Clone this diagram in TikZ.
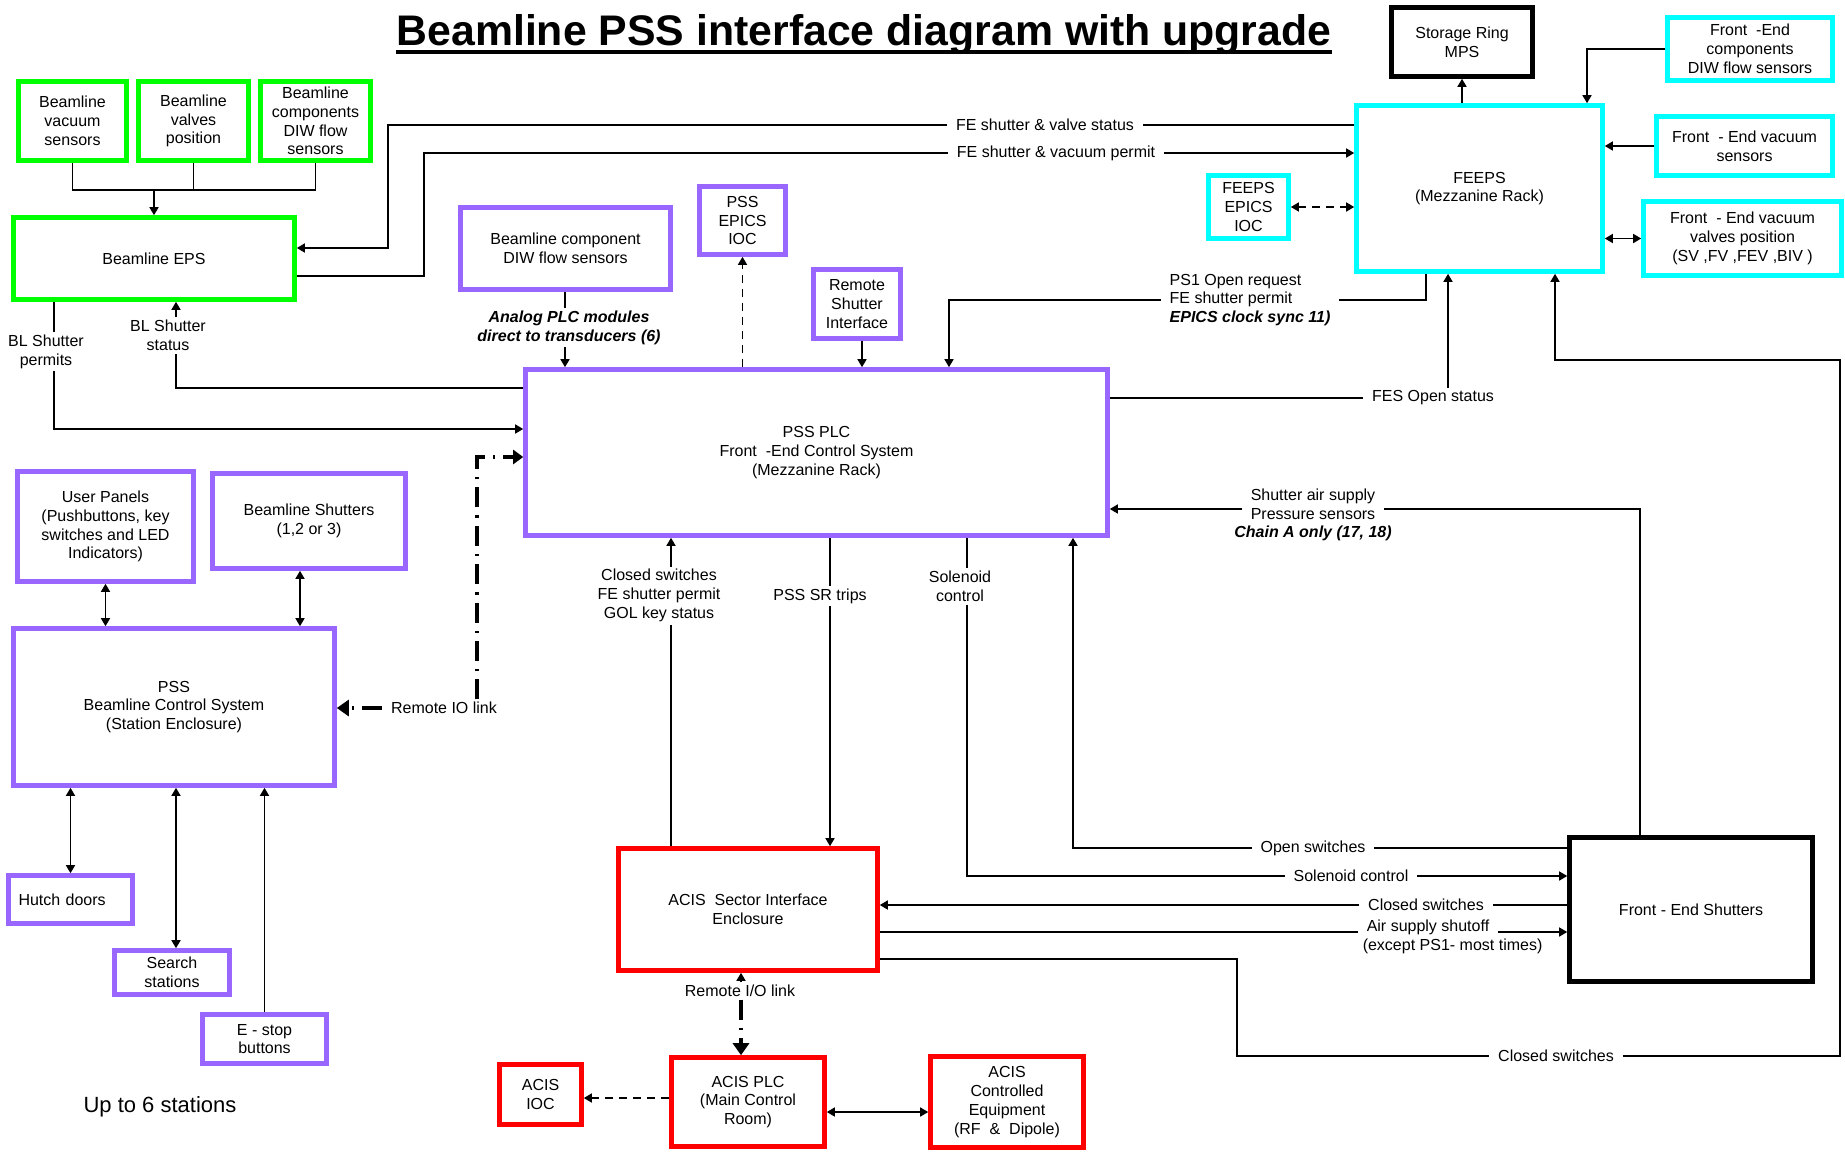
\documentclass[tikz,border=0pt]{standalone}
\usepackage{fontspec}
\setmainfont{Liberation Sans}
\usetikzlibrary{arrows.meta}

\definecolor{clrgreen}{RGB}{0,255,0}
\definecolor{clrcyan}{RGB}{0,255,255}
\definecolor{clrpurple}{RGB}{153,102,255}
\definecolor{clrred}{RGB}{255,0,0}

\tikzset{
  blk/.style={draw, line width=2.3pt, align=center, inner sep=1pt},
  epsbox/.style={blk, draw=clrgreen},
  febox/.style={blk, draw=clrcyan},
  pssbox/.style={blk, draw=clrpurple},
  acisbox/.style={blk, draw=clrred},
  mpsbox/.style={blk, draw=black},
  lbl/.style={align=center, inner xsep=4pt, inner ysep=1pt},
  arr/.style={-{Triangle[width=4.5pt,length=4pt]}},
  arrs/.style={{Triangle[width=4.5pt,length=4pt]}-{Triangle[width=4.5pt,length=4pt]}},
  dsh/.style={dash pattern=on 4pt off 3pt},
  rio/.style={line width=2pt, dash pattern=on 10pt off 4pt on 1.2pt off 4pt},
}
\newcommand\bfit{\bfseries\itshape}

\begin{document}
\begin{tikzpicture}[x=0.5pt, y=-0.5pt, line width=0.75pt, font=\fontsize{8}{9.4}\selectfont]
  \useasboundingbox (0,0) rectangle (1845,1152);

  \node[font=\fontsize{21.4}{25}\selectfont\bfseries, inner sep=0pt, anchor=base] (title) at (864,45) {Beamline PSS interface diagram with upgrade};
  \draw[line width=2pt] ([yshift=-3.5pt]title.base west) -- ([yshift=-3.5pt]title.base east);

  \node[epsbox, minimum width=54pt, minimum height=39.5pt] (bvac) at (72.5,121) {Beamline\\vacuum\\sensors};
  \node[epsbox, minimum width=55pt, minimum height=39.5pt] (bvalv) at (193.5,121) {Beamline\\valves\\position};
  \node[epsbox, minimum width=55pt, minimum height=39.5pt] (bdiw) at (315.5,121) {Beamline\\components\\DIW flow\\sensors};
  \node[epsbox, minimum width=140.5pt, minimum height=41pt] (eps) at (154,258.5) {Beamline EPS};

  \node[pssbox, minimum width=105pt, minimum height=41pt] (bcdiw) at (565.5,248.5) {Beamline component\\DIW flow sensors};
  \node[pssbox, minimum width=43pt, minimum height=34pt] (pioc) at (742.5,220.5) {PSS\\EPICS\\IOC};
  \node[pssbox, minimum width=43.5pt, minimum height=34.5pt] (rsi) at (857,304) {Remote\\Shutter\\Interface};
  \node[pssbox, minimum width=291pt, minimum height=83pt] (plc) at (816.5,452.5) {PSS PLC\\Front\ \ -End Control System\\(Mezzanine Rack)};

  \node[mpsbox, minimum width=70.5pt, minimum height=34.5pt] (srmps) at (1462,42) {Storage Ring\\MPS};
  \node[febox, minimum width=123pt, minimum height=83pt] (feeps) at (1479.5,188.5) {FEEPS\\(Mezzanine Rack)};
  \node[febox, minimum width=82.5pt, minimum height=31.5pt] (fediw) at (1750,49) {Front\ \ -End\\components\\DIW flow sensors};
  \node[febox, minimum width=88pt, minimum height=29.5pt] (fevac) at (1744.5,146) {Front\ \ - End vacuum\\sensors};
  \node[febox, minimum width=99pt, minimum height=37pt] (fevalv) at (1742.5,238.5) {Front\ \ - End vacuum\\valves position\\(SV ,FV ,FEV ,BIV )};
  \node[febox, minimum width=40pt, minimum height=31.5pt] (fioc) at (1248.5,207) {FEEPS\\EPICS\\IOC};

  \node[pssbox, minimum width=88pt, minimum height=55pt] (upanel) at (105.5,526.5) {User Panels\\(Pushbuttons, key\\switches and LED\\Indicators)};
  \node[pssbox, minimum width=96.5pt, minimum height=47.5pt] (bshut) at (309,521) {Beamline Shutters\\(1,2 or 3)};
  \node[pssbox, minimum width=160.5pt, minimum height=78.5pt] (bcs) at (174,707) {PSS\\Beamline Control System\\(Station Enclosure)};
  \node[pssbox, minimum width=62pt, minimum height=24pt, align=left, text width=52pt] (hutch) at (70.5,899.5) {Hutch doors};
  \node[pssbox, minimum width=57.5pt, minimum height=22pt] (search) at (172,972.5) {Search\\stations};
  \node[pssbox, minimum width=62pt, minimum height=24.5pt] (estop) at (264.5,1039) {E - stop\\buttons};

  \node[acisbox, minimum width=129.5pt, minimum height=61pt] (sie) at (748,909.5) {ACIS\ \ Sector Interface\\Enclosure};
  \node[acisbox, minimum width=76.5pt, minimum height=44.5pt] (aplc) at (748,1102) {ACIS PLC\\(Main Control\\Room)};
  \node[acisbox, minimum width=41pt, minimum height=30pt] (aioc) at (540.5,1094.5) {ACIS\\IOC};
  \node[acisbox, minimum width=76.5pt, minimum height=45.5pt] (ace) at (1007,1102) {ACIS\\Controlled\\Equipment\\(RF\ \ \&\ \ Dipole)};
  \node[mpsbox, minimum width=121.5pt, minimum height=72pt] (fes) at (1691,909.5) {Front - End Shutters};

  \node[lbl] (lbvs) at (1045,125) {FE shutter \& valve status};
  \node[lbl] (lbvp) at (1056,153) {FE shutter \& vacuum permit};
  \node[lbl] (lbsp) at (46,351.5) {BL Shutter\\permits};
  \node[lbl] (lbss) at (168,335.5) {BL Shutter\\status};
  \node[lbl, font=\fontsize{8}{9.4}\selectfont\bfit] (lapm) at (569,327.5) {Analog PLC modules\\direct to transducers (6)};
  \node[lbl, align=left] (lps1) at (1250,300) {PS1 Open request\\FE shutter permit\\{\bfit EPICS clock sync 11)}};
  \node[lbl] (lfes) at (1433,398) {FES Open status};
  \node[lbl] (lsas) at (1313,504.5) {Shutter air supply\\Pressure sensors};
  \node[lbl, font=\fontsize{8}{9.4}\selectfont\bfit] (lsasb) at (1313,533) {Chain A only (17, 18)};
  \node[lbl] (lcsw) at (659,595.5) {Closed switches\\FE shutter permit\\GOL key status};
  \node[lbl] (lsrt) at (820,596) {PSS SR trips};
  \node[lbl] (lsol) at (960,586.5) {Solenoid\\control};
  \node[lbl] (los) at (1313,848) {Open switches};
  \node[lbl] (lsol2) at (1351,876) {Solenoid control};
  \node[lbl] (lcs2) at (1426,905) {Closed switches};
  \node[lbl, anchor=west] (las1) at (1358,927) {Air supply shutoff};
  \node[lbl, anchor=west] (las2) at (1354,946) {(except PS1- most times)};
  \node[lbl] (lcs3) at (1556,1056) {Closed switches};
  \node[lbl] (lrio) at (444,708) {Remote IO link};
  \node[lbl] (lrio2) at (740,991) {Remote I/O link};
  \node[font=\fontsize{11}{13}\selectfont] (nst) at (160,1107) {Up to 6 stations};

  \coordinate (bjoin) at (154,190);
  \draw (bvac.south) |- (bjoin) -| (bdiw.south);
  \draw (bvalv.south) -- (bvalv.south |- bjoin);
  \draw[arr] (bjoin) -- (eps.north);

  \draw (feeps.west |- lbvs.east) -- (lbvs.east);
  \draw[arr] (lbvs.west) -| (388,248) -- (eps.east |- 0,248);
  \draw (eps.east |- 0,276) -| (lbvp.west -| 424,0) -- (lbvp.west);
  \draw[arr] (lbvp.east) -- (feeps.west |- lbvp.east);

  \draw (eps.south -| 54,0) -- (lbsp.north -| 54,0);
  \draw[arr] (lbsp.south -| 54,0) |- (plc.west |- 0,429);
  \draw[arr] (lbss.north -| 176,0) -- (eps.south -| 176,0);
  \draw (plc.west |- 0,388) -| (lbss.south -| 176,0);

  \draw (bcdiw.south -| 565,0) -- (lapm.north -| 565,0);
  \draw[arr] (lapm.south -| 565,0) -- (plc.north -| 565,0);
  \draw[arr, dsh] (plc.north -| pioc.south) -- (pioc.south);
  \draw[arr] (rsi.south -| 862,0) -- (plc.north -| 862,0);
  \draw (feeps.south -| 1426,0) |- (lps1.east);
  \draw[arr] (lps1.west) -| (plc.north -| 949,0);

  \draw[arr] (feeps.north -| srmps.south) -- (srmps.south);
  \draw[arr] (fediw.west) -| (feeps.north -| 1587,0);
  \draw[arr] (fevac.west) -- (feeps.east |- fevac.west);
  \draw[arrs] (feeps.east |- fevalv.west) -- (fevalv.west);
  \draw[arrs, dsh] (fioc.east) -- (feeps.west |- fioc.east);

  \draw (plc.east |- lfes.west) -- (lfes.west);
  \draw[arr] (lfes.north -| 1448,0) -- (feeps.south -| 1448,0);
  \draw (fes.north -| 1640,0) |- (lsas.east |- 0,509);
  \draw[arr] (lsas.west |- 0,509) -- (plc.east |- 0,509);

  \draw[arr] (lcsw.north -| 671,0) -- (plc.south -| 671,0);
  \draw (sie.north -| 671,0) -- (lcsw.south -| 671,0);
  \draw (plc.south -| 830,0) -- (lsrt.north -| 830,0);
  \draw[arr] (lsrt.south -| 830,0) -- (sie.north -| 830,0);
  \draw (plc.south -| 967,0) -- (lsol.north -| 967,0);
  \draw (lsol.south -| 967,0) |- (lsol2.west);
  \draw[arr] (lsol2.east) -- (fes.west |- lsol2.east);
  \draw (fes.west |- los.east) -- (los.east);
  \draw[arr] (los.west) -| (plc.south -| 1073,0);
  \draw (fes.west |- lcs2.east) -- (lcs2.east);
  \draw[arr] (lcs2.west) -- (sie.east |- lcs2.west);
  \draw (sie.east |- 0,932) -- (las1.west |- 0,932);
  \draw[arr] (las1.east |- 0,932) -- (fes.west |- 0,932);
  \draw (sie.east |- 0,959) -| (lcs3.west -| 1237,0) -- (lcs3.west);
  \draw[arr] (lcs3.east) -| (1840,360) -| (feeps.south -| 1555,0);

  \draw[rio, -{Triangle[width=7pt,length=5pt]}] (lrio.north -| 477,0) |- (plc.west |- 0,457);
  \draw[rio, -{Triangle[width=8pt,length=6pt]}] (lrio.west) -- (bcs.east |- lrio.west);
  \draw[arr] (lrio2.north -| 741,0) -- (sie.south -| 741,0);
  \draw[rio, -{Triangle[width=8pt,length=6pt]}] (lrio2.south -| 741,0) -- (aplc.north -| 741,0);
  \draw[arr, dsh] (aplc.west |- 0,1098) -- (aioc.east |- 0,1098);
  \draw[arrs] (aplc.east |- 0,1112) -- (ace.west |- 0,1112);

  \draw[arrs] (upanel.south) -- (bcs.north -| upanel.south);
  \draw[arrs] (bshut.south -| 300,0) -- (bcs.north -| 300,0);
  \draw[arrs] (bcs.south -| hutch.north) -- (hutch.north);
  \draw[arrs] (bcs.south -| 176,0) -- (search.north -| 176,0);
  \draw[arr] (estop.north) -- (bcs.south -| estop.north);
\end{tikzpicture}
\end{document}
